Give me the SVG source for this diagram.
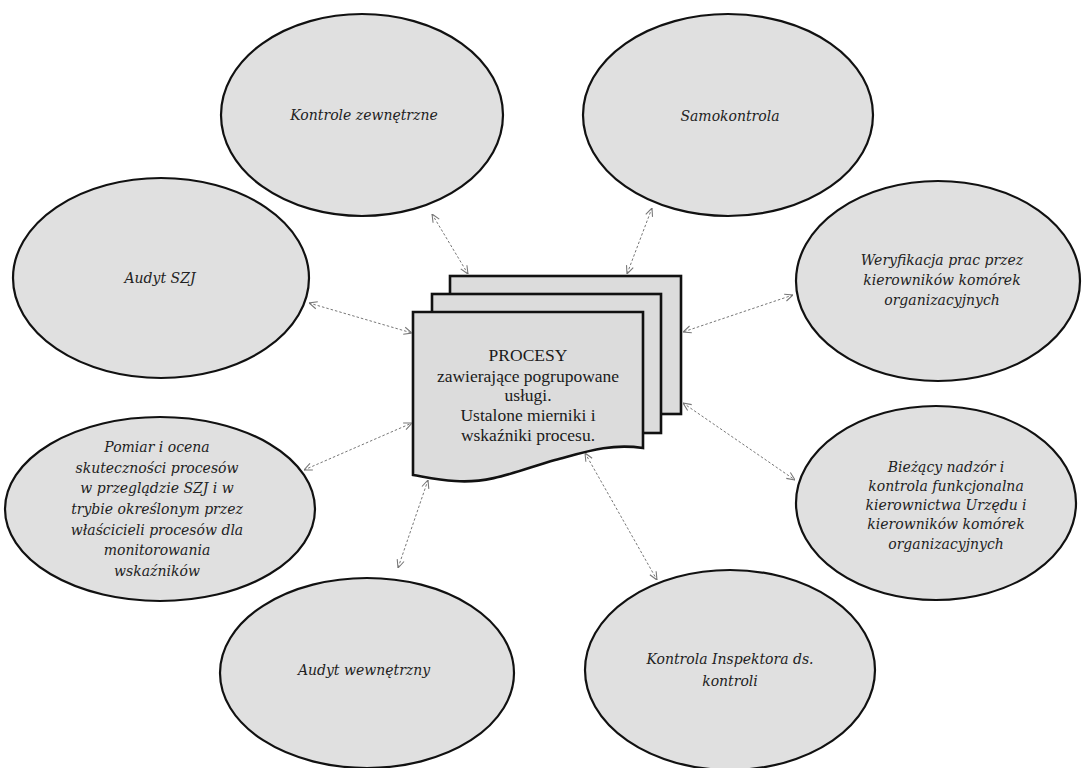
<svg xmlns="http://www.w3.org/2000/svg" width="1082" height="768" viewBox="0 0 1082 768">
<defs>
<style>
.ell{fill:#e0e0e0;stroke:#111;stroke-width:2.2}
.sheet{fill:#dcdcdc;stroke:#111;stroke-width:2.6}
.et{font-family:"DejaVu Serif","Liberation Serif",serif;font-style:italic;font-size:14px;fill:#222;text-anchor:middle}
.dt{font-family:"Liberation Serif","DejaVu Serif",serif;font-size:17.5px;fill:#1a1a1a;text-anchor:middle}
.con{stroke:#777;stroke-width:1;stroke-dasharray:2.5 2;fill:none;marker-start:url(#ah);marker-end:url(#ah)}
</style>
<marker id="ah" viewBox="0 0 10 10" refX="10" refY="5" markerWidth="9" markerHeight="9" markerUnits="userSpaceOnUse" orient="auto-start-reverse">
<path d="M1,1 L10,5 L1,9" fill="none" stroke="#777" stroke-width="1.2"/>
</marker>
</defs>
<rect width="1082" height="768" fill="#fff"/>

<g id="n-kontrole-zewnetrzne"><ellipse class="ell" cx="362" cy="115" rx="141" ry="101"/><text class="et" x="364" y="120">Kontrole zewnętrzne</text></g>
<g id="n-samokontrola"><ellipse class="ell" cx="728" cy="115" rx="145" ry="101"/><text class="et" x="730" y="121">Samokontrola</text></g>
<g id="n-audyt-szj"><ellipse class="ell" cx="161" cy="278" rx="148" ry="100"/><text class="et" x="160" y="283">Audyt SZJ</text></g>
<g id="n-weryfikacja"><ellipse class="ell" cx="938" cy="281" rx="142" ry="100"/><text class="et" x="942" y="265">Weryfikacja prac przez</text><text class="et" x="942" y="285">kierowników komórek</text><text class="et" x="942" y="305">organizacyjnych</text></g>
<g id="n-biezacy-nadzor"><ellipse class="ell" cx="936" cy="503" rx="140" ry="97"/><text class="et" x="946" y="472">Bieżący nadzór i</text><text class="et" x="946" y="491">kontrola funkcjonalna</text><text class="et" x="946" y="510">kierownictwa Urzędu i</text><text class="et" x="946" y="529">kierowników komórek</text><text class="et" x="946" y="549">organizacyjnych</text></g>
<g id="n-pomiar"><ellipse class="ell" cx="160" cy="509" rx="155" ry="92"/><text class="et" x="157" y="452">Pomiar i ocena</text><text class="et" x="157" y="473">skuteczności procesów</text><text class="et" x="157" y="493">w przeglądzie SZJ i w</text><text class="et" x="157" y="514">trybie określonym przez</text><text class="et" x="157" y="535">właścicieli procesów dla</text><text class="et" x="157" y="555">monitorowania</text><text class="et" x="157" y="576">wskaźników</text></g>
<g id="n-audyt-wewnetrzny"><ellipse class="ell" cx="367" cy="673" rx="147" ry="95"/><text class="et" x="364" y="675">Audyt wewnętrzny</text></g>
<g id="n-kontrola-inspektora"><ellipse class="ell" cx="730" cy="670" rx="145" ry="100"/><text class="et" x="730" y="664">Kontrola Inspektora ds.</text><text class="et" x="730" y="686">kontroli</text></g>

<g id="n-procesy">
<rect class="sheet" x="450" y="276" width="231" height="138"/>
<rect class="sheet" x="432" y="294" width="229" height="139"/>
<path class="sheet" d="M413,312 H643 V448 C610,443 585,452 555,460 C520,470 490,484 455,481 C438,480 425,477 413,475 Z"/>
<text class="dt" x="528" y="361">PROCESY</text>
<text class="dt" x="528" y="382">zawierające pogrupowane</text>
<text class="dt" x="528" y="401">usługi.</text>
<text class="dt" x="528" y="421">Ustalone mierniki i</text>
<text class="dt" x="528" y="441">wskaźniki procesu.</text>
</g>

<g id="connectors">
<line class="con" x1="432" y1="214" x2="468" y2="274"/>
<line class="con" x1="652" y1="208" x2="627" y2="274"/>
<line class="con" x1="309" y1="303" x2="412" y2="333"/>
<line class="con" x1="793" y1="295" x2="683" y2="332"/>
<line class="con" x1="683" y1="403" x2="795" y2="480"/>
<line class="con" x1="304" y1="470" x2="412" y2="423"/>
<line class="con" x1="428" y1="480" x2="398" y2="568"/>
<line class="con" x1="585" y1="453" x2="657" y2="580"/>
</g>
</svg>
